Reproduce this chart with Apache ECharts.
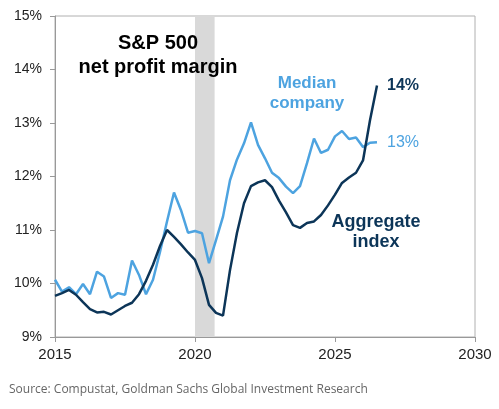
<!DOCTYPE html>
<html>
<head>
<meta charset="utf-8">
<script src="https://cdn.jsdelivr.net/npm/echarts@6/dist/echarts.min.js"></script>
<style>
  html, body { margin: 0; padding: 0; background: #fff; }
  #chart { width: 499px; height: 409px; }
</style>
</head>
<body>
<div id="chart"></div>
<script>
// quarterly readings, first quarter of 2015 onwards
var firstYear = 2015;
var median = [10.07, 9.85, 9.93, 9.80, 9.99, 9.80, 10.22, 10.13, 9.73, 9.82,
    9.79, 10.43, 10.16, 9.80, 10.07, 10.59, 11.16, 11.70, 11.37, 10.95,
    10.98, 10.94, 10.38, 10.81, 11.25, 11.93, 12.32, 12.62, 13.01, 12.59,
    12.34, 12.07, 11.97, 11.81, 11.69, 11.82, 12.25, 12.71, 12.44, 12.50,
    12.75, 12.85, 12.70, 12.73, 12.55, 12.63, 12.64];
var aggregate = [9.77, 9.82, 9.88, 9.79, 9.65, 9.52, 9.46, 9.47, 9.42, 9.50,
    9.58, 9.64, 9.80, 10.05, 10.35, 10.70, 11.00, 10.87, 10.73, 10.58,
    10.44, 10.10, 9.60, 9.45, 9.40, 10.25, 10.95, 11.50, 11.82, 11.89,
    11.93, 11.80, 11.55, 11.33, 11.09, 11.04, 11.13, 11.16, 11.28, 11.46,
    11.66, 11.88, 11.98, 12.07, 12.30, 13.05, 13.70];
var recession = [2020, 2020.7];
var xTicks = [2015, 2020, 2025, 2030];
var yTicks = [9, 10, 11, 12, 13, 14, 15];

var navy = '#0c3558';
var lightBlue = '#4da3e0';
var font = 'Liberation Sans, Arial, sans-serif';

function pairs(values) {
    return values.map(function (v, i) { return [firstYear + i / 4, v]; });
}

var dom = document.getElementById('chart');
var myChart = echarts.init(dom);
var option = {
    animation: false,
    textStyle: { fontFamily: font },
    grid: {
        left: 55, right: 24, top: 16, bottom: 72,
        show: true, borderColor: '#b0b0b0', borderWidth: 1
    },
    xAxis: {
        type: 'value',
        min: xTicks[0],
        max: xTicks[xTicks.length - 1],
        interval: 5,
        axisLine: { lineStyle: { color: '#999' } },
        axisTick: { length: 5, lineStyle: { color: '#999' } },
        axisLabel: { color: '#222', fontSize: 15, margin: 10, formatter: function (v) { return String(v); } },
        splitLine: { show: false }
    },
    yAxis: {
        type: 'value',
        min: yTicks[0],
        max: yTicks[yTicks.length - 1],
        interval: 1,
        axisLine: { show: true, lineStyle: { color: '#999' } },
        axisTick: { show: true, length: 5, lineStyle: { color: '#999' } },
        axisLabel: { color: '#222', fontSize: 14, margin: 13, formatter: '{value}%' },
        splitLine: { show: false }
    },
    series: [
        {
            type: 'line',
            data: [],
            silent: true,
            markArea: {
                silent: true,
                itemStyle: { color: '#d9d9d9' },
                data: [[{ xAxis: recession[0] }, { xAxis: recession[1] }]]
            }
        },
        {
            name: 'Median company',
            type: 'line',
            data: pairs(median),
            showSymbol: false,
            lineStyle: { color: lightBlue, width: 2.5 },
            itemStyle: { color: lightBlue },
            endLabel: {
                show: true,
                distance: 10,
                color: lightBlue,
                fontSize: 16,
                formatter: function (p) { return Math.round(p.value[1]) + '%'; }
            }
        },
        {
            name: 'Aggregate index',
            type: 'line',
            data: pairs(aggregate),
            showSymbol: false,
            lineStyle: { color: navy, width: 2.5 },
            itemStyle: { color: navy },
            endLabel: {
                show: true,
                distance: 10,
                color: navy,
                fontSize: 16,
                fontWeight: 'bold',
                formatter: function (p) { return Math.round(p.value[1]) + '%'; }
            }
        }
    ],
    graphic: [
        {
            type: 'text', x: 158, y: 31, z: 100,
            style: {
                text: 'S&P 500\nnet profit margin',
                align: 'center', verticalAlign: 'top',
                font: 'bold 20px ' + font,
                fill: '#000', lineHeight: 24
            }
        },
        {
            type: 'text', x: 307, y: 73, z: 100,
            style: {
                text: 'Median\ncompany',
                align: 'center', verticalAlign: 'top',
                font: 'bold 17px ' + font,
                fill: lightBlue, lineHeight: 20
            }
        },
        {
            type: 'text', x: 376, y: 212, z: 100,
            style: {
                text: 'Aggregate\nindex',
                align: 'center', verticalAlign: 'top',
                font: 'bold 18px ' + font,
                fill: navy, lineHeight: 20
            }
        },
        {
            type: 'text', x: 9, y: 384,
            style: {
                text: 'Source: Compustat, Goldman Sachs Global Investment Research',
                font: '12px Open Sans, sans-serif',
                fill: '#666'
            }
        }
    ]
};
if (option && typeof option === 'object') {
    myChart.setOption(option, true);
}
</script>
</body>
</html>
